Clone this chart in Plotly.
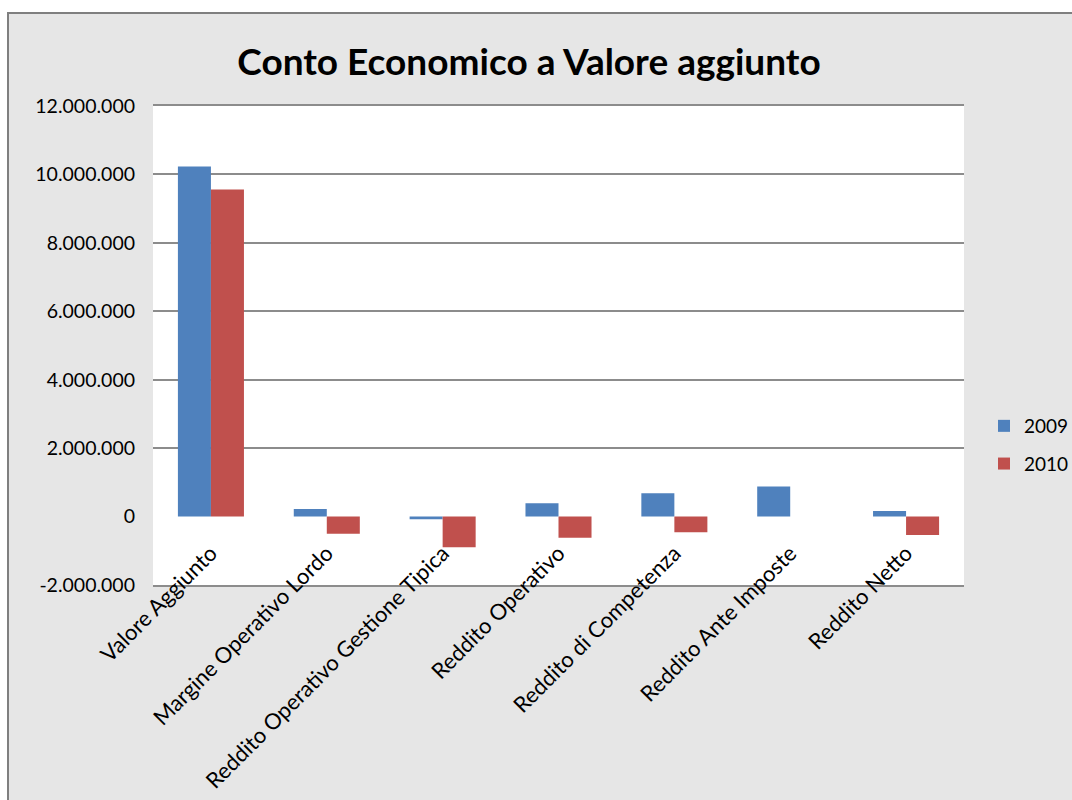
import plotly.graph_objects as go

categories = [
    "Valore Aggiunto",
    "Margine Operativo Lordo",
    "Reddito Operativo Gestione Tipica",
    "Reddito Operativo",
    "Reddito di Competenza",
    "Reddito Ante Imposte",
    "Reddito Netto",
]
values_2009 = [10230000, 220000, -80000, 390000, 680000, 880000, 160000]
values_2010 = [9560000, -500000, -900000, -620000, -460000, 0, -540000]

y_tickvals = [-2000000, 0, 2000000, 4000000, 6000000, 8000000, 10000000, 12000000]
y_ticktext = ["-2.000.000", "0", "2.000.000", "4.000.000", "6.000.000",
              "8.000.000", "10.000.000", "12.000.000"]
grid_vals = [2000000, 4000000, 6000000, 8000000, 10000000]

FONT = "Lato"
BG = "#E6E6E6"
GRID = "#8C8C8C"

W, H = 1072, 800
L, T = 153, 106
R = W - 964
B = H - 585
PW, PH = W - L - R, H - T - B


def px_x(p):
    return (p - L) / PW


def px_y(p):
    return (H - B - p) / PH


fig = go.Figure()
fig.add_trace(go.Bar(x=categories, y=values_2009, name="2009",
                     marker=dict(color="#4F81BD", line=dict(width=0)),
                     legendgroup="a"))
fig.add_trace(go.Bar(x=categories, y=values_2010, name="2010",
                     marker=dict(color="#C0504D", line=dict(width=0)),
                     legendgroup="b"))
fig.add_trace(go.Scatter(x=[categories[0]], y=[0], yaxis="y2", mode="markers",
                         marker=dict(opacity=0), showlegend=False, hoverinfo="skip"))

fig.update_layout(
    width=W, height=H,
    margin=dict(l=L, r=R, t=T, b=B, autoexpand=False),
    paper_bgcolor=BG,
    plot_bgcolor="white",
    font=dict(family=FONT, size=19, color="#000000"),
    barmode="group",
    bargap=0.43,
    bargroupgap=0,
    title=dict(text="<b>Conto Economico a Valore aggiunto</b>",
               x=529 / W, xref="container", xanchor="center",
               y=1 - 62 / H, yref="container", yanchor="middle",
               font=dict(family=FONT, size=37, color="#000000")),
    xaxis=dict(
        tickangle=-45,
        showgrid=False,
        showline=True,
        mirror=True,
        linecolor=GRID,
        linewidth=1.5,
        zeroline=False,
        ticks="",
        automargin=False,
        tickfont=dict(family=FONT, size=22, color="#000000"),
        ticklabelstandoff=-55,
    ),
    yaxis=dict(
        range=[-2000000, 12000000],
        tickvals=y_tickvals,
        ticktext=y_ticktext,
        showgrid=False,
        zeroline=False,
        showline=False,
        ticks="",
        automargin=False,
        ticklabelstandoff=17,
        tickfont=dict(family=FONT, size=19.5, color="#000000"),
    ),
    yaxis2=dict(
        range=[-2000000, 12000000],
        overlaying="y",
        side="left",
        tickvals=grid_vals,
        showticklabels=False,
        showgrid=True,
        gridcolor=GRID,
        gridwidth=1.5,
        zeroline=False,
        showline=False,
        ticks="",
        automargin=False,
    ),
    legend=dict(
        xref="container", yref="container",
        x=984 / W, xanchor="left",
        y=1 - 445 / H, yanchor="middle",
        traceorder="grouped",
        tracegroupgap=10,
        bgcolor="rgba(0,0,0,0)",
        font=dict(family=FONT, size=19, color="#000000"),
        itemwidth=30,
    ),
    shapes=[
        # white strips outside the chart frame
        dict(type="rect", xref="paper", yref="paper",
             x0=px_x(-20), x1=px_x(1100), y0=px_y(13), y1=px_y(-20),
             fillcolor="white", line=dict(width=0), layer="above"),
        dict(type="rect", xref="paper", yref="paper",
             x0=px_x(-20), x1=px_x(8), y0=px_y(830), y1=px_y(-20),
             fillcolor="white", line=dict(width=0), layer="above"),
        # chart frame
        dict(type="rect", xref="paper", yref="paper",
             x0=px_x(8), x1=px_x(1110), y0=px_y(830), y1=px_y(13),
             fillcolor="rgba(0,0,0,0)", line=dict(color="#7F7F7F", width=2),
             layer="above"),
    ],
)

fig.write_html(
    "out.html",
    config={"displayModeBar": False},
    post_script=(
        "document.documentElement.style.margin='0';"
        "document.documentElement.style.overflow='hidden';"
        "document.body.style.margin='0';"
        "document.body.style.overflow='hidden';"
    ),
)
